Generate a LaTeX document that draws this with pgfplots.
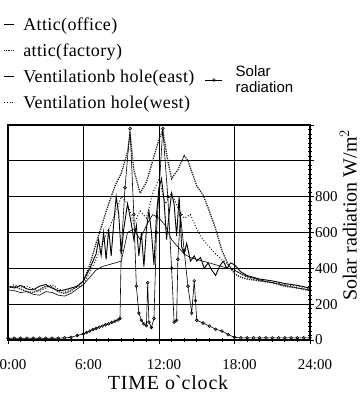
\documentclass[border=0pt]{standalone}
\usepackage{fontspec}
\setmainfont{Liberation Serif}
\newfontfamily\sansf{Liberation Sans}
\newfontfamily\legfont[LetterSpace=2]{Liberation Serif}
\newfontfamily\labfont[LetterSpace=4]{Liberation Serif}
\usepackage{pgfplots}
\pgfplotsset{compat=1.18}
\begin{document}
\begin{tikzpicture}
\path[use as bounding box] (0,0) rectangle (361pt,397pt);
\clip (0,0) rectangle (361pt,397pt);
\begin{axis}[
  at={(8pt,57pt)}, anchor=south west, scale only axis,
  width=302pt, height=215pt,
  xmin=0, xmax=24, ymin=0, ymax=1200,
  xtick={0,6,12,18,24}, xticklabels={0:00,6:00,12:00,18:00,24:00},
  ytick={0,200,...,1200}, yticklabels={0,200,400,600,800,{},{}},
  xtick pos=bottom, ytick pos=right, yticklabel pos=right,
  minor x tick num=5, minor y tick num=7,
  grid=major, major grid style={black, line width=0.7pt},
  axis line style={line width=1.5pt},
  tick align=center, major tick length=7pt, minor tick length=3.5pt,
  every tick/.style={black, line width=0.8pt},
  /pgf/number format/assume math mode=true,
  tick label style={font=\fontsize{15}{17}\selectfont},
  xticklabel style={yshift=-12pt, xshift=5pt},
  yticklabel style={xshift=-2pt},
  xlabel={TIME o\textasciigrave clock},
  xlabel style={font=\labfont\fontsize{20}{22}\selectfont, at={(axis description cs:0.53,-0.2)}, anchor=center},
  ylabel={Solar radiation W/m$^2$},
  ylabel style={font=\fontsize{20}{22}\selectfont, at={(axis description cs:1.127,0.58)}, anchor=center},
  legend style={at={(-0.017,1.51)}, anchor=north west, draw=none, fill=none,
    font=\legfont\fontsize{18}{20}\selectfont, row sep=8pt, inner sep=0pt},
  legend cell align=left,
  legend image code/.code={\draw[#1] (0pt,0pt) -- (10pt,0pt); \path (17pt,0pt);},
]
% Attic(office)
\addplot[black, line width=0.6pt] coordinates {
(0,280)(0.5,275)(1,265)(1.5,270)(2,255)(2.5,250)(3,270)(3.5,265)(4,250)(4.5,245)(5,260)(5.5,285)
(6,310)(6.5,350)(7,390)(7.5,410)(8,420)(8.5,430)(9,440)(9.5,600)(10,620)(10.5,560)(11,640)
(11.5,700)(12,680)(12.5,640)(13,560)(13.5,520)(14,480)(14.5,460)(15,450)(15.5,440)(16,430)
(16.5,420)(17,410)(17.5,400)(18,390)(18.5,370)(19,355)(19.5,345)(20,335)(21,320)(22,305)(23,290)(24,280)};
\addlegendentry{Attic(office)}
% attic(factory)
\addplot[black!85, line width=1.3pt, densely dotted] coordinates {
(0,290)(0.5,300)(1,285)(1.5,270)(2,265)(2.5,280)(3,300)(3.5,295)(4,270)(4.5,260)(5,275)(5.5,300)
(6,330)(6.5,420)(7,540)(7.5,650)(8,760)(8.5,860)(9,930)(9.5,1050)(9.7,1150)(10,950)(10.5,820)
(11,880)(11.5,1000)(12,1120)(12.3,1170)(12.7,1000)(13,900)(13.5,950)(14,1030)(14.3,1000)
(14.7,920)(15,860)(15.5,810)(16,720)(16.5,620)(17,500)(17.5,420)(18,370)(18.5,350)(19,340)
(20,330)(21,320)(22,300)(23,290)(24,275)};
\addlegendentry{attic(factory)}
% Ventilation hole (east)
\addplot[black, line width=0.9pt] coordinates {
(0,300)(0.5,290)(1,305)(1.5,285)(2,280)(2.5,300)(3,310)(3.5,290)(4,275)(4.5,280)(5,290)(5.5,300)
(6,330)(6.5,400)(7,480)(7.2,560)(7.4,470)(7.6,600)(7.8,450)(8,620)(8.2,470)(8.4,650)(8.6,800)
(8.8,700)(9,480)(9.2,620)(9.5,760)(9.8,650)(10,560)(10.2,640)(10.4,470)(10.6,600)(10.8,410)
(11,620)(11.2,720)(11.4,600)(11.6,420)(11.8,700)(12,850)(12.2,900)(12.4,780)(12.6,560)
(12.8,700)(13,820)(13.2,760)(13.4,580)(13.6,800)(13.8,520)(14,480)(14.2,540)(14.5,440)
(14.8,470)(15,440)(15.3,460)(15.6,400)(15.9,430)(16.2,390)(16.5,360)(16.8,410)(17.1,440)
(17.4,400)(17.7,430)(18,420)(18.5,380)(19,360)(19.5,350)(20,340)(21,330)(22,315)(23,305)(24,290)};
\addlegendentry{Ventilationb hole(east)}
% Ventilation hole (west)
\addplot[black, line width=0.9pt, dotted] coordinates {
(0,290)(0.5,310)(1,295)(1.5,300)(2,285)(2.5,270)(3,290)(3.5,310)(4,285)(4.5,270)(5,285)(5.5,295)
(6,310)(6.5,380)(7,450)(7.5,540)(8,620)(8.5,700)(9,800)(9.5,760)(10,650)(10.5,720)(11,680)
(11.5,820)(12,900)(12.5,760)(13,820)(13.5,740)(14,680)(14.5,700)(15,620)(15.5,560)(16,520)
(16.5,480)(17,450)(17.5,420)(18,390)(19,350)(20,330)(21,320)(22,310)(23,300)(24,285)};
\addlegendentry{Ventilation hole(west)}
\end{axis}
\begin{axis}[
  at={(8pt,57pt)}, anchor=south west, scale only axis,
  width=302pt, height=215pt,
  xmin=0, xmax=24, ymin=0, ymax=1200, hide axis,
  legend style={at={(0.652,1.209)}, anchor=west, draw=none, fill=none,
    font=\sansf\fontsize{15}{16}\selectfont, inner sep=0pt, cells={align=left}},
  legend image code/.code={\draw[#1, mark=none] (0pt,0pt) -- (17pt,0pt);
     \draw[#1, only marks] plot coordinates {(8.5pt,0pt)}; \path (28pt,0pt);},
]
\addplot[black, line width=0.6pt, mark=o, mark size=1.4pt] coordinates {
(0,10)(0.5,10)(1,10)(1.5,10)(2,10)(2.5,10)(3,10)(3.5,10)(4,10)(4.5,12)(5,15)(5.5,25)(6,35)
(6.25,42)(6.5,50)(6.75,58)(7,65)(7.25,72)(7.5,78)(7.75,85)(8,90)(8.25,98)(8.5,105)(8.75,112)(8.9,120)
(9.0,500)(9.3,850)(9.7,1180)(10.0,700)(10.2,300)(10.4,150)(10.6,110)(10.8,90)(11.0,80)
(11.1,320)(11.2,100)(11.4,70)(11.6,120)(11.8,600)(12.3,1180)(12.7,800)(13.0,400)(13.2,100)
(13.4,110)(13.5,450)(13.7,700)(14.0,500)(14.3,300)(14.6,150)(14.8,330)(14.9,220)(15.0,110)
(15.5,95)(16,78)(16.5,60)(17,50)(17.5,30)(18,15)(18.5,12)(19,12)(19.5,12)(20,12)(20.5,12)(21,12)
(21.5,12)(22,12)(22.5,12)(23,12)(23.5,12)(24,12)};
\addlegendentry{Solar\\radiation}
\end{axis}
\end{tikzpicture}
\end{document}
